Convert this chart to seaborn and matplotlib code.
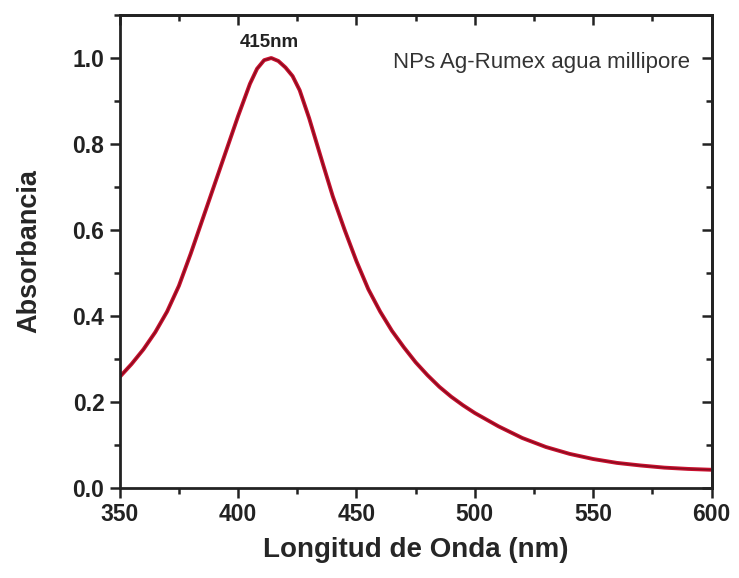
import seaborn as sns
import matplotlib.pyplot as plt
import pandas as pd
from matplotlib.ticker import MultipleLocator

# UV-Vis spectrum
wavelength = [350, 355, 360, 365, 370, 375, 380, 385, 390, 395, 400, 405, 408, 411, 414,
              417, 420, 423, 426, 430, 433, 436, 440, 445, 450, 455, 460, 465, 470, 475, 480,
              485, 490, 495, 500, 510, 520, 530, 540, 550, 560, 570, 580, 590, 600]
absorbance = [0.258, 0.288, 0.322, 0.362, 0.41, 0.47, 0.545, 0.625, 0.705, 0.785, 0.865, 0.94, 0.975, 0.995, 1.0,
              0.993, 0.978, 0.958, 0.925, 0.86, 0.805, 0.75, 0.678, 0.60, 0.527, 0.462, 0.41, 0.365, 0.327, 0.292, 0.262,
              0.235, 0.212, 0.192, 0.174, 0.143, 0.116, 0.095, 0.079, 0.067, 0.058, 0.052, 0.047, 0.044, 0.042]
peak_label = "415nm"
sample_label = "NPs Ag-Rumex agua millipore"

df = pd.DataFrame({"wl": wavelength, "abs": absorbance})

sns.set_style("ticks")
plt.rcParams['font.family'] = ['Liberation Sans', 'DejaVu Sans']

fig = plt.figure(figsize=(7.39, 5.78), dpi=100)
ax = fig.add_axes([0.162, 0.156, 0.801, 0.818])

sns.lineplot(data=df, x="wl", y="abs", ax=ax, color="#c8102e", linewidth=2.8)
# dark core like the original trace
sns.lineplot(data=df, x="wl", y="abs", ax=ax, color="#5a0a14", linewidth=1.0, alpha=0.6)

ax.set_xlim(350, 600)
ax.set_ylim(0, 1.1)
ax.xaxis.set_major_locator(MultipleLocator(50))
ax.xaxis.set_minor_locator(MultipleLocator(25))
ax.yaxis.set_major_locator(MultipleLocator(0.2))
ax.yaxis.set_minor_locator(MultipleLocator(0.1))
ax.yaxis.set_major_formatter(plt.FormatStrFormatter('%.1f'))

for s in ax.spines.values():
    s.set_linewidth(2)
    s.set_color("#222222")

ax.tick_params(which='both', direction='out', width=1.8, colors="#222222", labelsize=16.5)
ax.tick_params(which='major', length=7, pad=4)
ax.tick_params(which='minor', length=4)

secx = ax.secondary_xaxis('top')
secx.xaxis.set_major_locator(MultipleLocator(50))
secx.xaxis.set_minor_locator(MultipleLocator(25))
secx.tick_params(which='both', direction='in', width=1.8, labeltop=False, colors="#222222")
secx.tick_params(which='major', length=7)
secx.tick_params(which='minor', length=4)
secx.spines['top'].set_linewidth(2)

secy = ax.secondary_yaxis('right')
secy.yaxis.set_major_locator(MultipleLocator(0.2))
secy.yaxis.set_minor_locator(MultipleLocator(0.1))
secy.tick_params(which='both', direction='in', width=1.8, labelright=False, colors="#222222")
secy.tick_params(which='major', length=7)
secy.tick_params(which='minor', length=4)
secy.spines['right'].set_linewidth(2)

for lab in ax.get_xticklabels() + ax.get_yticklabels():
    lab.set_fontweight('bold')

ax.set_xlabel("Longitud de Onda (nm)", fontsize=20, fontweight='bold', labelpad=8)
ax.set_ylabel("Absorbancia", fontsize=19.5, fontweight='bold', labelpad=22)

ax.text(413, 1.037, peak_label, ha='center', va='center', fontsize=13.5, fontweight='bold', color="#222222")
ax.text(591, 0.99, sample_label, ha='right', va='center', fontsize=16, color="#333333")

fig.savefig("out.png", dpi=100)
